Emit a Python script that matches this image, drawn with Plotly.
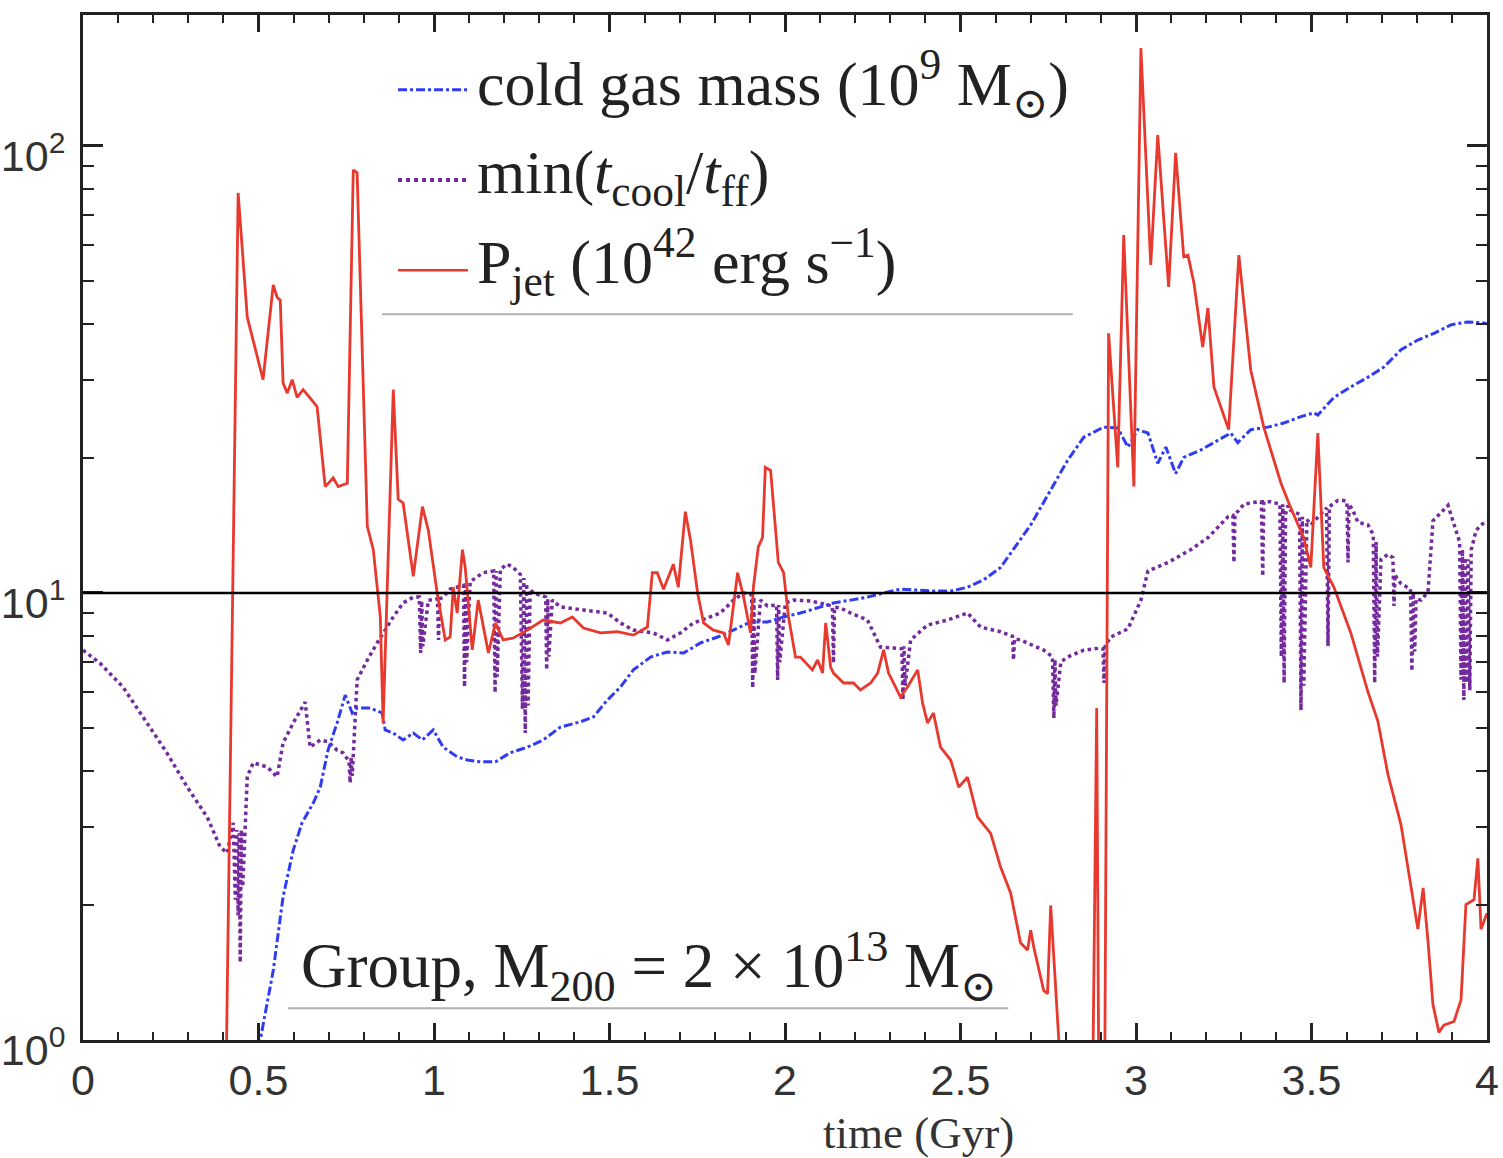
import plotly.graph_objects as go

# ---- data -------------------------------------------------------------
# jet power, 1e42 erg/s (values < 1 fall below the plotted range)
t_jet = [0.40, 0.442, 0.468, 0.513, 0.542, 0.553, 0.562, 0.570, 0.582, 0.596,
         0.610, 0.627, 0.647, 0.667, 0.690, 0.713, 0.727, 0.753, 0.770, 0.781,
         0.810, 0.827, 0.847, 0.855, 0.884, 0.898, 0.912, 0.941, 0.967, 0.984,
         1.009, 1.032, 1.046, 1.055, 1.066, 1.081, 1.089, 1.109, 1.126, 1.140,
         1.155, 1.175, 1.197, 1.226, 1.266, 1.311, 1.360, 1.394, 1.426, 1.474,
         1.522, 1.568, 1.608, 1.622, 1.636, 1.654, 1.682, 1.696, 1.716, 1.731,
         1.751, 1.768, 1.796, 1.825, 1.839, 1.865, 1.882, 1.902, 1.910, 1.924,
         1.936, 1.944, 1.959, 1.981, 1.996, 2.010, 2.030, 2.044, 2.058, 2.078,
         2.093, 2.107, 2.116, 2.130, 2.138, 2.167, 2.195, 2.215, 2.244, 2.264,
         2.281, 2.295, 2.309, 2.329, 2.349, 2.378, 2.392, 2.406, 2.423, 2.443,
         2.472, 2.495, 2.520, 2.549, 2.586, 2.614, 2.643, 2.671, 2.691, 2.700,
         2.709, 2.737, 2.748, 2.757, 2.780, 2.800, 2.871, 2.888, 2.897, 2.908,
         2.922, 2.948, 2.965, 2.994, 3.014, 3.042, 3.062, 3.093, 3.113, 3.136,
         3.148, 3.165, 3.190, 3.205, 3.222, 3.264, 3.293, 3.327, 3.364, 3.413,
         3.441, 3.478, 3.498, 3.518, 3.535, 3.564, 3.612, 3.661, 3.689, 3.718,
         3.755, 3.803, 3.818, 3.832, 3.846, 3.863, 3.877, 3.906, 3.926, 3.940,
         3.963, 3.974, 3.983, 4.0]
p_jet = [0.3, 78.5, 41.4, 30.0, 48.9, 45.9, 45.2, 29.5, 28.0, 30.0,
         27.4, 28.5, 27.3, 26.1, 17.3, 18.1, 17.3, 17.6, 88.4, 87.1,
         14.1, 12.5, 8.84, 5.12, 28.5, 16.2, 15.9, 10.9, 15.6, 13.8,
         10.0, 7.85, 7.97, 10.3, 9.02, 12.5, 11.4, 7.46, 9.64, 8.39,
         7.34, 8.57, 7.85, 7.93, 8.26, 8.70, 8.57, 8.84, 8.35, 8.14,
         8.19, 8.05, 8.39, 11.1, 11.1, 10.2, 11.6, 10.3, 15.2, 13.1,
         10.0, 8.57, 8.26, 8.14, 7.65, 11.1, 9.80, 8.14, 10.3, 12.7,
         13.3, 19.1, 18.8, 11.7, 11.1, 8.84, 7.19, 7.19, 7.01, 6.73,
         7.08, 6.62, 8.57, 6.83, 6.62, 6.29, 6.29, 6.07, 6.29, 6.62,
         7.46, 6.62, 6.29, 5.85, 6.16, 6.73, 5.67, 5.12, 5.39, 4.52,
         4.23, 3.68, 3.87, 3.15, 2.90, 2.44, 2.13, 1.65, 1.59, 1.76,
         1.61, 1.29, 1.27, 2.00, 1.0, 0.3, 0.3, 5.53, 0.3, 0.3,
         38.1, 19.1, 63.2, 17.3, 165.6, 54.2, 105.8, 48.4, 96.5, 56.5,
         57.0, 49.4, 35.5, 43.4, 28.9, 23.2, 57.0, 31.5, 23.5, 17.6,
         15.5, 13.3, 11.4, 22.8, 11.4, 10.3, 8.14, 6.0, 5.17, 3.92,
         3.03, 1.77, 2.19, 1.66, 1.20, 1.04, 1.08, 1.10, 1.23, 2.01,
         2.06, 2.55, 1.77, 1.92]

# cold gas mass, 1e9 Msun
t_cold = [0.47, 0.505, 0.542, 0.570, 0.599, 0.624, 0.656, 0.676, 0.698, 0.724,
          0.747, 0.767, 0.781, 0.818, 0.852, 0.861, 0.884, 0.912, 0.941, 0.967,
          0.998, 1.026, 1.066, 1.095, 1.132, 1.175, 1.217, 1.266, 1.311, 1.360,
          1.417, 1.454, 1.494, 1.531, 1.568, 1.617, 1.665, 1.711, 1.759, 1.808,
          1.853, 1.902, 1.950, 1.996, 2.044, 2.093, 2.138, 2.187, 2.235, 2.281,
          2.329, 2.423, 2.472, 2.520, 2.566, 2.614, 2.651, 2.700, 2.757, 2.805,
          2.851, 2.908, 2.948, 2.977, 3.005, 3.034, 3.062, 3.085, 3.113, 3.136,
          3.185, 3.233, 3.270, 3.290, 3.327, 3.376, 3.421, 3.470, 3.507, 3.518,
          3.564, 3.612, 3.661, 3.706, 3.755, 3.803, 3.849, 3.897, 3.946, 3.991,
          4.0]
m_cold = [0.55, 1.0, 1.43, 2.09, 2.66, 3.06, 3.39, 3.68, 4.45, 5.12,
          5.91, 5.39, 5.53, 5.53, 5.39, 4.94, 4.86, 4.69, 4.86, 4.69,
          4.94, 4.52, 4.30, 4.23, 4.19, 4.19, 4.39, 4.52, 4.69, 5.01,
          5.15, 5.28, 5.76, 6.16, 6.73, 7.19, 7.38, 7.34, 7.73, 7.97,
          8.26, 8.61, 8.61, 8.84, 9.02, 9.26, 9.50, 9.64, 9.79, 10.0,
          10.2, 10.1, 10.1, 10.3, 10.7, 11.4, 12.5, 14.2, 17.0, 19.8,
          22.3, 23.5, 23.4, 21.2, 23.2, 22.8, 19.5, 21.2, 18.5, 20.1,
          20.9, 22.0, 22.8, 21.7, 23.2, 23.5, 24.0, 24.8, 25.3, 25.0,
          27.4, 28.9, 30.4, 32.0, 35.0, 36.8, 38.1, 39.8, 40.4, 40.2,
          40.0]

# minimum of t_cool / t_ff (rapid oscillations show up as dotted bands)
t_ratio = [0.0, 0.048, 0.114, 0.182, 0.239, 0.297, 0.354, 0.391, 0.411, 0.428,
           0.434, 0.438, 0.442, 0.445, 0.448, 0.451, 0.455, 0.468, 0.485, 0.525,
           0.553, 0.570, 0.599, 0.633, 0.647, 0.676, 0.698, 0.724, 0.741, 0.758,
           0.761, 0.764, 0.767, 0.781, 0.810, 0.838, 0.855, 0.884, 0.912, 0.941,
           0.958, 0.962, 0.965, 0.968, 0.984, 0.998, 1.010, 1.013, 1.016, 1.026,
           1.046, 1.069, 1.084, 1.087, 1.090, 1.093, 1.103, 1.140, 1.170, 1.174,
           1.177, 1.180, 1.189, 1.209, 1.226, 1.246, 1.252, 1.256, 1.260, 1.264,
           1.268, 1.274, 1.283, 1.318, 1.321, 1.324, 1.327, 1.337, 1.360, 1.426,
           1.494, 1.531, 1.568, 1.625, 1.665, 1.702, 1.739, 1.779, 1.816, 1.853,
           1.882, 1.905, 1.908, 1.911, 1.914, 1.930, 1.950, 1.976, 1.979, 1.982,
           1.985, 2.001, 2.024, 2.073, 2.121, 2.135, 2.138, 2.141, 2.158, 2.187,
           2.235, 2.272, 2.309, 2.333, 2.336, 2.339, 2.342, 2.358, 2.406, 2.463,
           2.520, 2.557, 2.614, 2.648, 2.651, 2.654, 2.671, 2.691, 2.737, 2.762,
           2.766, 2.769, 2.772, 2.786, 2.805, 2.851, 2.899, 2.906, 2.909, 2.912,
           2.928, 2.977, 3.014, 3.034, 3.091, 3.156, 3.205, 3.262, 3.276, 3.279,
           3.282, 3.293, 3.307, 3.347, 3.357, 3.361, 3.364, 3.373, 3.384, 3.410,
           3.414, 3.418, 3.422, 3.426, 3.433, 3.441, 3.466, 3.470, 3.474, 3.478,
           3.487, 3.498, 3.518, 3.543, 3.547, 3.551, 3.564, 3.575, 3.592, 3.601,
           3.604, 3.607, 3.618, 3.632, 3.661, 3.676, 3.680, 3.684, 3.688, 3.698,
           3.718, 3.732, 3.735, 3.738, 3.746, 3.755, 3.782, 3.786, 3.790, 3.794,
           3.798, 3.812, 3.832, 3.846, 3.889, 3.906, 3.922, 3.926, 3.930, 3.934,
           3.938, 3.942, 3.946, 3.951, 3.955, 3.969, 3.983, 4.0]
ratio = [7.45, 6.97, 6.16, 5.12, 4.39, 3.68, 3.15, 2.70, 2.62, 3.06,
         2.06, 2.95, 1.90, 2.90, 1.49, 2.95, 2.20, 3.88, 4.17, 4.08,
         3.88, 4.62, 5.12, 5.70, 4.52, 4.69, 4.65, 4.45, 4.39, 4.20,
         3.76, 4.30, 3.90, 6.39, 7.08, 7.73, 8.14, 8.84, 9.50, 9.79,
         9.79, 7.34, 9.60, 7.60, 9.64, 9.64, 9.70, 7.85, 9.70, 9.79,
         10.2, 10.3, 10.4, 6.16, 10.4, 7.00, 10.6, 11.1, 11.2, 5.98,
         11.2, 6.50, 11.3, 11.6, 11.4, 11.0, 5.50, 10.8, 4.86, 10.5,
         5.60, 10.2, 10.0, 9.80, 6.73, 9.70, 7.20, 9.64, 9.31, 9.16,
         9.02, 8.57, 8.26, 8.14, 7.85, 8.14, 8.57, 8.79, 9.02, 9.64,
         10.0, 9.90, 6.13, 9.80, 6.60, 9.64, 9.35, 9.40, 6.39, 9.40,
         7.00, 9.50, 9.64, 9.60, 9.40, 9.35, 6.97, 9.30, 9.26, 9.02,
         8.70, 7.57, 7.53, 7.50, 5.76, 7.60, 6.20, 7.85, 8.48, 8.70,
         9.02, 8.39, 8.19, 8.00, 7.08, 7.90, 7.85, 7.73, 7.45, 7.20,
         5.25, 7.10, 5.60, 7.01, 7.19, 7.45, 7.53, 7.50, 6.29, 7.60,
         7.97, 8.31, 9.64, 11.2, 11.7, 12.5, 13.3, 14.8, 14.9, 11.7,
         15.0, 15.3, 15.8, 16.0, 16.0, 10.9, 16.0, 16.0, 16.0, 15.8,
         7.20, 15.8, 6.29, 15.0, 15.7, 15.3, 15.0, 5.47, 14.8, 6.20,
         14.6, 14.2, 14.8, 15.5, 7.61, 15.6, 15.9, 16.1, 16.1, 16.0,
         11.7, 15.8, 15.3, 14.4, 14.2, 13.5, 6.29, 13.0, 7.20, 11.9,
         12.2, 12.0, 9.35, 11.0, 10.7, 10.5, 10.2, 6.69, 10.0, 7.40,
         9.70, 9.64, 10.05, 14.5, 15.7, 14.2, 13.0, 6.40, 12.5, 5.76,
         12.0, 6.30, 11.9, 6.06, 12.5, 13.8, 14.2, 14.5]

x_ticks = [0, 0.5, 1, 1.5, 2, 2.5, 3, 3.5, 4]
x_labels = ["0", "0.5", "1", "1.5", "2", "2.5", "3", "3.5", "4"]
y_ticks = [1, 10, 100]
y_labels = ["10<sup>0</sup>", "10<sup>1</sup>", "10<sup>2</sup>"]
y_minor = [2, 3, 4, 5, 6, 7, 8, 9, 20, 30, 40, 50, 60, 70, 80, 90]

assert len(t_jet) == len(p_jet)
assert len(t_cold) == len(m_cold)
assert len(t_ratio) == len(ratio)

RED = "#e8392f"
BLUE = "#2f3cf2"
PURPLE = "#742a9c"
SERIF = "Liberation Serif, DejaVu Serif, serif"
SANS = "Liberation Sans, Arial, sans-serif"

fig = go.Figure()
fig.add_trace(go.Scatter(x=t_ratio, y=ratio, mode="lines", name="min(t_cool/t_ff)",
                         line=dict(color=PURPLE, width=3.5, dash="dot"), showlegend=False))
fig.add_trace(go.Scatter(x=t_cold, y=m_cold, mode="lines", name="cold gas mass",
                         line=dict(color=BLUE, width=3, dash="dashdot"), showlegend=False))
fig.add_trace(go.Scatter(x=t_jet, y=p_jet, mode="lines", name="P_jet",
                         line=dict(color=RED, width=2.8), showlegend=False))

# reference level t_cool/t_ff = 10
fig.add_shape(type="line", xref="paper", x0=0, x1=1, yref="y", y0=10, y1=10,
              line=dict(color="black", width=2.5))

# hand-built key
key = [
    ("cold gas mass (10<sup>9</sup> M<sub>⊙</sub>)", BLUE, "dashdot", 3, 0.927, 0.933),
    ("min(<i>t</i><sub>cool</sub>/<i>t</i><sub>ff</sub>)", PURPLE, "dot", 4, 0.839, 0.842),
    ("P<sub>jet</sub> (10<sup>42</sup> erg s<sup>−1</sup>)", RED, "solid", 2.5, 0.751, 0.760),
]
for text, col, dash, w, yk, yt in key:
    fig.add_shape(type="line", xref="paper", yref="paper", x0=0.2244, x1=0.2742,
                  y0=yk, y1=yk, line=dict(color=col, width=w, dash=dash))
    fig.add_annotation(x=0.279, y=yt, xref="paper", yref="paper", text=text,
                       showarrow=False, xanchor="left", yanchor="middle",
                       font=dict(family=SERIF, size=62, color="#222"))
fig.add_shape(type="line", xref="paper", yref="paper", x0=0.213, x1=0.705,
              y0=0.708, y1=0.708, line=dict(color="#b0b0b0", width=2))

fig.add_annotation(x=0.154, y=0.072, xref="paper", yref="paper",
                   text="Group, M<sub>200</sub> = 2 × 10<sup>13</sup> M<sub>⊙</sub>",
                   showarrow=False, xanchor="left", yanchor="middle",
                   font=dict(family=SERIF, size=63, color="#222"))
fig.add_shape(type="line", xref="paper", yref="paper", x0=0.146, x1=0.659,
              y0=0.031, y1=0.031, line=dict(color="#b0b0b0", width=2))

fig.add_annotation(x=0.595, y=-0.0907, xref="paper", yref="paper", text="time (Gyr)",
                   showarrow=False, xanchor="center", yanchor="middle",
                   font=dict(family=SERIF, size=45, color="#333"))

fig.update_layout(
    width=1503, height=1158,
    margin=dict(l=83, r=16, t=15, b=118, autoexpand=False),
    paper_bgcolor="white", plot_bgcolor="white",
    xaxis=dict(range=[0, 4], tickvals=x_ticks, ticktext=x_labels, automargin=False,
               ticks="inside", ticklen=17, tickwidth=2.5, tickcolor="#222",
               minor=dict(dtick=0.1, tick0=0, ticks="inside", ticklen=8,
                          tickwidth=2, tickcolor="#222"),
               showline=True, linecolor="#222", linewidth=3, mirror="ticks",
               showgrid=False, zeroline=False, ticklabelstandoff=0,
               tickfont=dict(family=SANS, size=43, color="#333")),
    yaxis=dict(type="log", range=[0, 2.293], tickvals=y_ticks, ticktext=y_labels,
               automargin=False,
               ticks="inside", ticklen=20, tickwidth=2.5, tickcolor="#222",
               minor=dict(tickvals=y_minor, ticks="inside", ticklen=11,
                          tickwidth=2, tickcolor="#222"),
               showline=True, linecolor="#222", linewidth=3, mirror="ticks",
               showgrid=False, zeroline=False, ticklabelstandoff=6,
               ticklabelshift=10,
               tickfont=dict(family=SANS, size=43, color="#333")),
)

fig.write_html("out.html")
